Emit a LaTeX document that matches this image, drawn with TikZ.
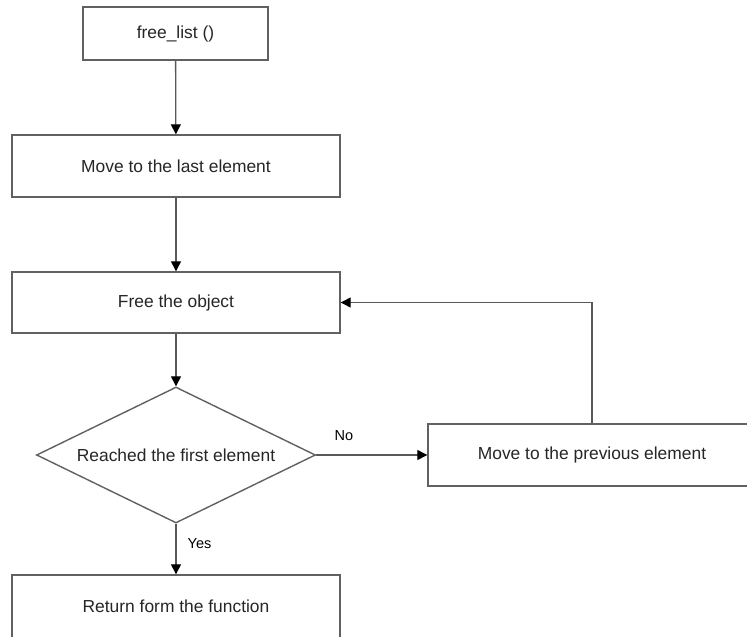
\documentclass[tikz,border=0pt]{standalone}
\usepackage{fontspec}
\setmainfont{Liberation Sans}
\usetikzlibrary{shapes.geometric,arrows.meta}
\begin{document}
\begin{tikzpicture}[x=1pt,y=1pt,
  box/.style={draw=black!62, line width=1.4pt, fill=white, rectangle,
    inner sep=0pt, text=black!85, font=\fontsize{17.4}{20}\selectfont},
  decision/.style={draw=black!62, line width=1.4pt, fill=white, diamond,
    aspect=2.05, inner sep=0pt, minimum width=279pt, minimum height=136pt,
    text=black!85, font=\fontsize{17.4}{20}\selectfont},
  flow/.style={draw=black!65, line width=1.3pt,
    -{Triangle[length=10pt,width=10pt,color=black]}},
  branch/.style={text=black, font=\fontsize{14.5}{17}\selectfont}
]
  % page frame (the lower and right boxes run past it)
  \clip (0,0) rectangle (747,-637);
  \fill[white] (0,0) rectangle (747,-637);

  % process steps
  \node[box, minimum width=185pt, minimum height=53pt] (start) at (175.5,-33.5) {free\_list ()};
  \node[box, minimum width=328pt, minimum height=62pt] (last) at (176,-166) {Move to the last element};
  \node[box, minimum width=328pt, minimum height=61pt] (free) at (176,-302.5) {Free the object};
  \node[decision] (check) at (176,-455) {Reached the first element};
  \node[box, minimum width=328pt, minimum height=62pt] (prev) at (592,-455) {Move to the previous element};
  \node[box, minimum width=328pt, minimum height=66pt] (ret) at (176,-608) {};
  \node[text=black!85, font=\fontsize{17.4}{20}\selectfont] (rettext) at (176,-606) {Return form the function};

  % connectors
  \draw[flow] (start) -- (last);
  \draw[flow] (last) -- (free);
  \draw[flow] (free) -- (check);
  \draw[flow] (check.east) -- (prev.west);
  \draw[flow] (check.south) -- (ret.north);
  \coordinate (bend) at (prev.north |- free.east);
  \draw[flow] (prev.north) -- (bend) -- (free.east);

  % branch labels
  \node[branch] (nolabel) at (344,-436) {No};
  \node[branch] (yeslabel) at (199.5,-543.5) {Yes};
\end{tikzpicture}
\end{document}
